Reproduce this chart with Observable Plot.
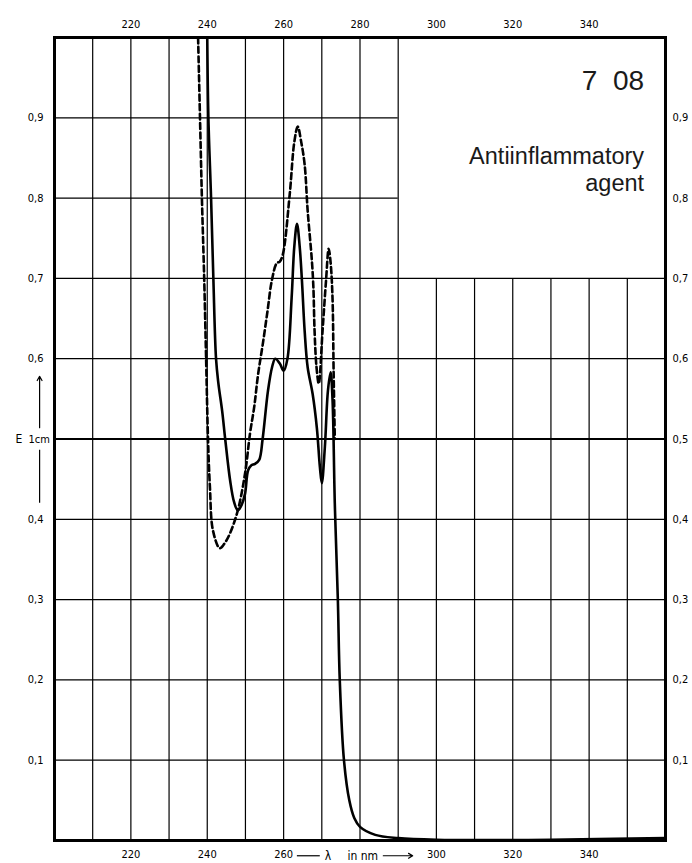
<!DOCTYPE html>
<html>
<head>
<meta charset="utf-8">
<script src="https://cdn.jsdelivr.net/npm/d3@7"></script>
<script src="https://cdn.jsdelivr.net/npm/@observablehq/plot@0.6"></script>
<style>
  body { margin: 0; background: #fff; }
  #chart svg { display: block; }
</style>
</head>
<body>
<div id="chart"></div>
<script>
// ---- data ----
const solidNm = [240.0, 240.3, 241.0, 241.6, 242.3, 242.9, 243.9, 244.7, 246.0, 247.0, 248.0, 249.0, 249.9, 250.7, 251.5, 252.5, 253.6, 254.5, 255.9, 257.0, 257.8, 259.0, 260.0, 261.0, 262.1, 262.8, 263.5, 264.2, 264.8, 265.5, 266.3, 267.6, 268.7, 269.5, 270.0, 270.8, 271.6, 272.3, 272.8, 273.4, 274.2, 274.7, 275.8, 277.2, 278.5, 280.0, 284.0, 290.0, 300.0, 330.0, 360.0];
const solidA  = [1.00, 0.90, 0.80, 0.70, 0.60, 0.57, 0.535, 0.50, 0.448, 0.422, 0.411, 0.418, 0.432, 0.461, 0.467, 0.469, 0.474, 0.50, 0.56, 0.59, 0.60, 0.594, 0.585, 0.60, 0.676, 0.74, 0.768, 0.74, 0.697, 0.635, 0.589, 0.556, 0.514, 0.465, 0.445, 0.49, 0.56, 0.583, 0.55, 0.42, 0.30, 0.20, 0.10, 0.05, 0.028, 0.017, 0.007, 0.003, 0.001, 0.001, 0.003];

const dashedNm = [237.6, 238.1, 238.6, 239.2, 239.7, 240.2, 240.7, 241.5, 243.3, 244.8, 246.0, 248.0, 249.9, 251.2, 252.3, 253.3, 254.6, 255.8, 256.9, 258.2, 259.0, 259.8, 261.6, 262.8, 263.7, 264.6, 265.5, 266.3, 267.4, 267.8, 268.1, 268.6, 269.2, 270.2, 271.1, 271.8, 272.3, 272.8, 273.1, 273.4];
const dashedA  = [1.00, 0.90, 0.80, 0.70, 0.60, 0.50, 0.44, 0.386, 0.364, 0.372, 0.383, 0.411, 0.457, 0.507, 0.54, 0.58, 0.62, 0.66, 0.697, 0.719, 0.721, 0.73, 0.805, 0.87, 0.889, 0.87, 0.842, 0.784, 0.722, 0.688, 0.635, 0.59, 0.569, 0.635, 0.697, 0.737, 0.72, 0.676, 0.581, 0.50];

const gridNm = [210, 220, 230, 240, 250, 260, 270, 280, 290, 300, 310, 320, 330, 340, 350];
const gridA  = [0.1, 0.2, 0.3, 0.4, 0.5, 0.6, 0.7, 0.8, 0.9];
const topTicks = [220, 240, 260, 280, 300, 320, 340];
const bottomTicks = [220, 240, 260, 300, 320, 340];
const leftTicks = [0.1, 0.2, 0.3, 0.4, 0.6, 0.7, 0.8, 0.9];
const rightTicks = [0.1, 0.2, 0.3, 0.4, 0.5, 0.6, 0.7, 0.8, 0.9];

const titleNumber = "7  08";
const titleLines = ["Antiinflammatory", "agent"];
const yLabel = ["E", "1cm"];
const xLabel = ["λ", "in nm"];

// label box (grid omitted): wavelengths above 290 nm, absorbance above 0.7
const boxNm = 290, boxA = 0.7;

const solid = solidNm.map((x, i) => ({x, y: solidA[i]}));
const dashed = dashedNm.map((x, i) => ({x, y: dashedA[i]}));
const fmt = d => d3.format(".1f")(d).replace(".", ",");
const tickFont = "'DejaVu Sans Condensed', 'DejaVu Sans', sans-serif";
const labelFont = "'Liberation Sans', Arial, sans-serif";
const belowA = -0.019;

const chart = Plot.plot({
  width: 692,
  height: 863,
  marginLeft: 54,
  marginRight: 27,
  marginTop: 37,
  marginBottom: 23,
  style: {background: "#fff", color: "#000", fontFamily: tickFont, fontSize: "11px", overflow: "visible"},
  x: {domain: [200, 360]},
  y: {domain: [0, 1]},
  marks: [
    Plot.ruleX(gridNm, {x: d => d, y1: 0, y2: d => d > boxNm ? boxA : 1, stroke: "#000", strokeWidth: 1.2}),
    Plot.ruleY(gridA, {y: d => d, x1: 200, x2: d => d > boxA ? boxNm : 360, stroke: "#000", strokeWidth: d => d === 0.5 ? 2.2 : 1.2}),
    Plot.frame({stroke: "#000", strokeWidth: 3}),
    Plot.axisX({anchor: "top", ticks: topTicks, tickSize: 0, tickPadding: 10, tickFormat: d => d, fontSize: 11, label: null}),
    Plot.axisX({anchor: "bottom", ticks: bottomTicks, tickSize: 0, tickPadding: 10, tickFormat: d => d, fontSize: 11, label: null}),
    Plot.axisY({anchor: "left", ticks: leftTicks, tickSize: 0, tickPadding: 11, tickFormat: fmt, fontSize: 11, label: null}),
    Plot.axisY({anchor: "right", ticks: rightTicks, tickSize: 0, tickPadding: 7, tickFormat: fmt, fontSize: 11, label: null}),
    Plot.line(dashed, {x: "x", y: "y", curve: "catmull-rom", stroke: "#000", strokeWidth: 2.6, strokeDasharray: "6,3.5"}),
    Plot.line(solid, {x: "x", y: "y", curve: "catmull-rom", stroke: "#000", strokeWidth: 2.6}),
    // title block
    Plot.text([titleNumber], {x: 354.4, y: 0.946, text: d => d, textAnchor: "end", fontSize: 28, fontFamily: labelFont, fill: "#1a1a1a"}),
    Plot.text([titleLines[0]], {x: 354.4, y: 0.8524, text: d => d, textAnchor: "end", fontSize: 23.5, fontFamily: labelFont, fill: "#1a1a1a"}),
    Plot.text([titleLines[1]], {x: 354.4, y: 0.8176, text: d => d, textAnchor: "end", fontSize: 23.5, fontFamily: labelFont, fill: "#1a1a1a"}),
    // y axis label with arrow
    Plot.text([yLabel[0]], {frameAnchor: "left", y: 0.5, dx: -39, text: d => d, fontSize: 12}),
    Plot.text([yLabel[1]], {frameAnchor: "left", y: 0.5, dx: -26, text: d => d, textAnchor: "start", fontSize: 11}),
    Plot.arrow([0], {x1: 196.1, x2: 196.1, y1: 0.514, y2: 0.578, stroke: "#000", strokeWidth: 1.2, headLength: 6}),
    Plot.ruleX([196.1], {y1: 0.42, y2: 0.486, stroke: "#000", strokeWidth: 1.2}),
    // x axis label with arrow
    Plot.ruleY([belowA], {x1: 263.6, x2: 269.6, stroke: "#000", strokeWidth: 1.2}),
    Plot.text([xLabel[0]], {x: 271.6, y: belowA, text: d => d, fontSize: 12}),
    Plot.text([xLabel[1]], {x: 276.7, y: belowA, text: d => d, textAnchor: "start", fontSize: 12}),
    Plot.arrow([0], {x1: 286.1, x2: 293.8, y1: belowA, y2: belowA, stroke: "#000", strokeWidth: 1.2, headLength: 6})
  ]
});
document.getElementById("chart").append(chart);
</script>
</body>
</html>
